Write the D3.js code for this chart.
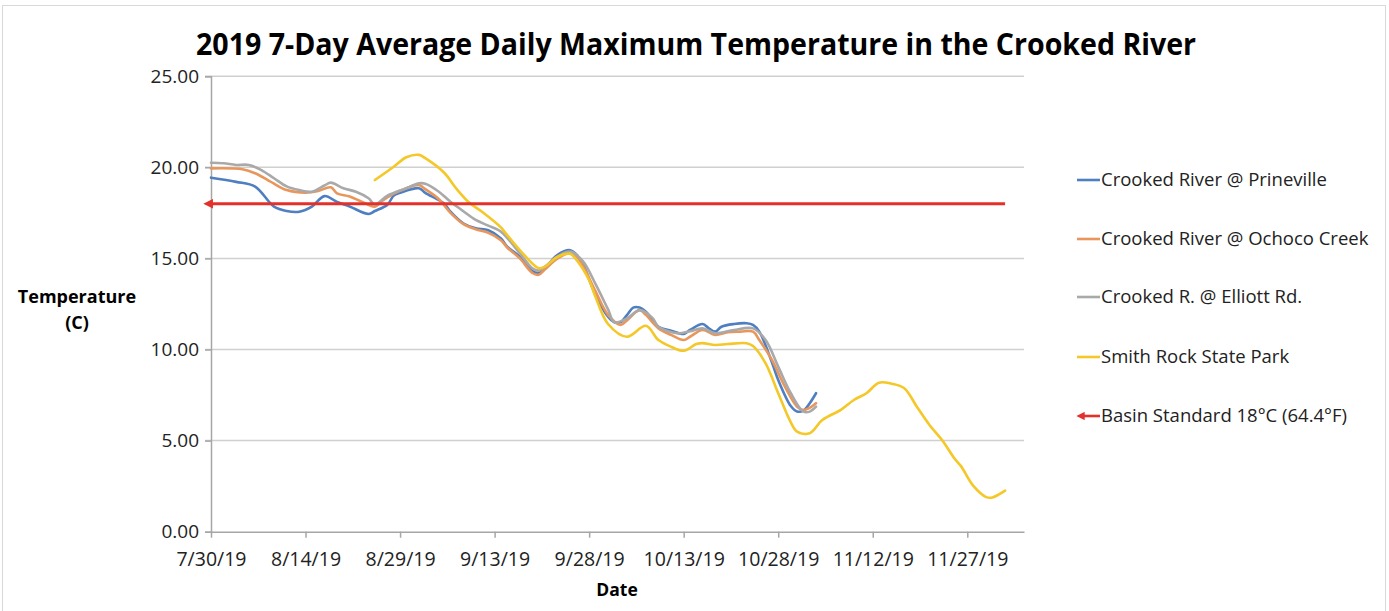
<!DOCTYPE html>
<html><head><meta charset="utf-8">
<script src="https://cdn.jsdelivr.net/npm/d3@7"></script>
<style>
html,body{margin:0;padding:0;background:#fff;}
svg{display:block;}
text{font-family:"Open Sans","DejaVu Sans",sans-serif;}
</style></head>
<body>
<svg id="chart" width="1389" height="611"></svg>
<script>
// ---- DATA ----
const titleText = "2019 7-Day Average Daily Maximum Temperature in the Crooked River";
const xTickLabels = ["7/30/19","8/14/19","8/29/19","9/13/19","9/28/19","10/13/19","10/28/19","11/12/19","11/27/19"];
const yTickValues = [0,5,10,15,20,25];
const seriesNames = ["Crooked River @ Prineville","Crooked River @ Ochoco Creek","Crooked R. @ Elliott Rd.","Smith Rock State Park","Basin Standard 18°C (64.4°F)"];

const prinevilleDates = ["2019-07-30","2019-08-03","2019-08-06","2019-08-09","2019-08-11","2019-08-13","2019-08-15","2019-08-17","2019-08-19","2019-08-21","2019-08-24","2019-08-25","2019-08-27","2019-08-28","2019-08-29","2019-09-01","2019-09-02","2019-09-05","2019-09-06","2019-09-08","2019-09-10","2019-09-12","2019-09-14","2019-09-15","2019-09-17","2019-09-19","2019-09-20","2019-09-21","2019-09-23","2019-09-25","2019-09-26","2019-09-27","2019-09-29","2019-10-01","2019-10-02","2019-10-03","2019-10-04","2019-10-05","2019-10-06","2019-10-07","2019-10-09","2019-10-11","2019-10-13","2019-10-14","2019-10-16","2019-10-17","2019-10-18","2019-10-19","2019-10-21","2019-10-23","2019-10-24","2019-10-25","2019-10-27","2019-10-28","2019-10-30","2019-10-31","2019-11-01","2019-11-02","2019-11-03"];
const prinevilleTemps = [19.43,19.2,18.94,17.84,17.6,17.56,17.84,18.42,18.1,17.85,17.44,17.6,17.95,18.45,18.6,18.85,18.6,18.0,17.56,16.93,16.65,16.55,16.1,15.64,15.09,14.3,14.2,14.46,15.2,15.45,15.2,14.7,13.0,11.8,11.5,11.5,11.89,12.3,12.3,12.07,11.25,11.03,10.85,11.07,11.4,11.16,10.98,11.25,11.4,11.44,11.35,10.98,9.3,8.33,6.9,6.6,6.65,7.05,7.6];

const ochocoDates = ["2019-07-30","2019-08-04","2019-08-06","2019-08-08","2019-08-09","2019-08-11","2019-08-14","2019-08-16","2019-08-18","2019-08-19","2019-08-21","2019-08-23","2019-08-25","2019-08-26","2019-08-28","2019-08-30","2019-09-01","2019-09-02","2019-09-04","2019-09-06","2019-09-08","2019-09-10","2019-09-12","2019-09-14","2019-09-15","2019-09-17","2019-09-19","2019-09-20","2019-09-21","2019-09-23","2019-09-25","2019-09-26","2019-09-27","2019-09-29","2019-10-01","2019-10-03","2019-10-04","2019-10-06","2019-10-07","2019-10-09","2019-10-11","2019-10-13","2019-10-14","2019-10-16","2019-10-18","2019-10-20","2019-10-22","2019-10-24","2019-10-25","2019-10-27","2019-10-29","2019-10-31","2019-11-01","2019-11-02","2019-11-03"];
const ochocoTemps = [19.94,19.89,19.67,19.3,19.1,18.75,18.61,18.7,18.9,18.57,18.4,18.1,17.84,18.11,18.55,18.85,19.03,18.8,18.3,17.5,16.9,16.6,16.4,16.0,15.6,15.0,14.2,14.1,14.4,15.0,15.3,15.1,14.6,13.2,11.9,11.35,11.6,12.16,11.9,11.16,10.8,10.52,10.7,11.07,10.8,10.95,10.98,10.98,10.52,9.43,8.0,6.86,6.68,6.8,7.05];

const elliottDates = ["2019-07-30","2019-08-01","2019-08-03","2019-08-05","2019-08-07","2019-08-09","2019-08-11","2019-08-13","2019-08-15","2019-08-17","2019-08-18","2019-08-20","2019-08-22","2019-08-24","2019-08-25","2019-08-27","2019-08-30","2019-09-01","2019-09-02","2019-09-04","2019-09-06","2019-09-08","2019-09-10","2019-09-12","2019-09-14","2019-09-17","2019-09-19","2019-09-20","2019-09-21","2019-09-23","2019-09-25","2019-09-27","2019-09-29","2019-10-01","2019-10-02","2019-10-04","2019-10-06","2019-10-08","2019-10-09","2019-10-12","2019-10-14","2019-10-16","2019-10-18","2019-10-21","2019-10-24","2019-10-26","2019-10-28","2019-10-30","2019-11-01","2019-11-02","2019-11-03"];
const elliottTemps = [20.25,20.22,20.13,20.13,19.85,19.4,18.95,18.75,18.66,19.0,19.16,18.85,18.66,18.3,17.95,18.45,18.85,19.12,19.1,18.7,18.11,17.6,17.11,16.8,16.47,15.28,14.45,14.33,14.55,15.1,15.37,14.85,13.6,12.2,11.5,11.7,12.16,11.75,11.25,10.89,11.0,11.16,10.89,11.07,11.16,10.52,9.06,7.6,6.59,6.59,6.86];

const smithDates = ["2019-08-25","2019-08-28","2019-08-30","2019-09-01","2019-09-02","2019-09-05","2019-09-07","2019-09-09","2019-09-11","2019-09-14","2019-09-15","2019-09-17","2019-09-20","2019-09-21","2019-09-23","2019-09-25","2019-09-26","2019-09-28","2019-09-29","2019-10-01","2019-10-04","2019-10-07","2019-10-09","2019-10-11","2019-10-13","2019-10-15","2019-10-16","2019-10-18","2019-10-20","2019-10-23","2019-10-24","2019-10-26","2019-10-28","2019-10-30","2019-10-31","2019-11-02","2019-11-04","2019-11-07","2019-11-09","2019-11-11","2019-11-13","2019-11-15","2019-11-17","2019-11-19","2019-11-21","2019-11-23","2019-11-25","2019-11-26","2019-11-28","2019-11-30","2019-12-01","2019-12-03"];
const smithTemps = [19.3,20.03,20.55,20.68,20.5,19.7,18.8,18.05,17.56,16.7,16.28,15.46,14.46,14.55,15.09,15.25,14.91,13.8,12.9,11.4,10.7,11.3,10.52,10.15,9.93,10.3,10.35,10.25,10.3,10.34,10.19,9.24,7.6,6.0,5.49,5.4,6.13,6.7,7.23,7.6,8.18,8.12,7.87,6.86,5.86,5.03,4.0,3.6,2.5,1.9,1.88,2.25];

const standardDates = ["2019-07-30","2019-12-03"];
const standardTemps = [18,18];

const xDomain = ["2019-07-30","2019-12-06"];
const yDomain = [0,25];

// ---- CHART ----
const parse = d3.timeParse("%Y-%m-%d");
const svg = d3.select("#chart");
const colors = ["#4f7fc0","#e8965c","#a9a9a9","#f4c828","#e3302b"];

// outer border
svg.append("rect").attr("x",2.5).attr("y",5.5).attr("width",1383).attr("height",620)
  .attr("fill","#fff").attr("stroke","#d9d9d9").attr("stroke-width",1);

const x = d3.scaleTime().domain(xDomain.map(parse)).range([211,1024]);
const y = d3.scaleLinear().domain(yDomain).range([531.7,76.2]);

// gridlines
svg.append("g").selectAll("line").data(yTickValues.filter(v=>v>0)).join("line")
  .attr("x1",205).attr("x2",1024).attr("y1",d=>y(d)).attr("y2",d=>y(d))
  .attr("stroke","#d0d0d0").attr("stroke-width",1.5);

// y axis
const yAxis = d3.axisLeft(y).tickValues(yTickValues).tickFormat(d3.format(".2f")).tickSize(6).tickPadding(6);
const gy = svg.append("g").attr("transform","translate(211,0)").call(yAxis);
gy.select(".domain").attr("stroke","#a6a6a6").attr("stroke-width",1.5);
gy.selectAll(".tick line").attr("stroke","#a6a6a6").attr("stroke-width",1.5);
gy.selectAll("text").attr("font-size","19px").attr("fill","#222").attr("font-family","Open Sans");

// x axis
const tickDates = xTickLabels.map(s=>d3.timeParse("%m/%d/%y")(s));
const xAxis = d3.axisBottom(x).tickValues(tickDates).tickFormat((d,i)=>xTickLabels[i]).tickSize(6).tickSizeOuter(0).tickPadding(14);
const gx = svg.append("g").attr("transform","translate(0,531.7)").call(xAxis);
gx.select(".domain").attr("stroke","#a6a6a6").attr("stroke-width",1.5);
gx.selectAll(".tick line").attr("stroke","#a6a6a6").attr("stroke-width",1.5);
gx.selectAll("text").attr("font-size","19.5px").attr("fill","#222").attr("font-family","Open Sans");

// series lines
const line = d3.line().x(d=>x(d.date)).y(d=>y(d.v)).curve(d3.curveCatmullRom.alpha(0.5));
function toPts(dates, vals){ return dates.map((s,i)=>({date:parse(s), v:vals[i]})); }
const series = [
  toPts(prinevilleDates, prinevilleTemps),
  toPts(ochocoDates, ochocoTemps),
  toPts(elliottDates, elliottTemps),
  toPts(smithDates, smithTemps)
];
svg.append("g").selectAll("path").data(series).join("path")
  .attr("d",line).attr("fill","none")
  .attr("stroke",(d,i)=>colors[i]).attr("stroke-width",2.6).attr("stroke-linejoin","round").attr("stroke-linecap","round");

// arrow marker
const defs = svg.append("defs");
defs.append("marker").attr("id","arrowL").attr("viewBox","0 0 10 10").attr("refX",2).attr("refY",5)
  .attr("markerWidth",3.2).attr("markerHeight",3.2).attr("orient","auto-start-reverse")
  .append("path").attr("d","M0,0 L10,5 L0,10 z").attr("fill",colors[4]);

const std = toPts(standardDates, standardTemps);
svg.append("path").datum(std).attr("d",d3.line().x(d=>x(d.date)).y(d=>y(d.v)))
  .attr("fill","none").attr("stroke",colors[4]).attr("stroke-width",3)
  .attr("marker-start","url(#arrowL)");

// title
svg.append("text").attr("x",696).attr("y",55).attr("text-anchor","middle")
  .attr("font-size","31px").attr("font-weight","bold").attr("fill","#000")
  .attr("textLength",1000).attr("lengthAdjust","spacingAndGlyphs").text(titleText);

// axis titles
svg.append("text").attr("x",77).attr("y",303).attr("text-anchor","middle")
  .attr("font-size","18px").attr("font-weight","bold").attr("fill","#000").text("Temperature");
svg.append("text").attr("x",77).attr("y",329).attr("text-anchor","middle")
  .attr("font-size","18px").attr("font-weight","bold").attr("fill","#000").text("(C)");
svg.append("text").attr("x",617).attr("y",596).attr("text-anchor","middle")
  .attr("font-size","17.5px").attr("font-weight","bold").attr("fill","#000").text("Date");

// legend
const legendY = [180,239,297,357,416];
const lg = svg.append("g");
seriesNames.forEach((name,i)=>{
  const yy = legendY[i];
  if(i<4){
    lg.append("line").attr("x1",1077).attr("x2",1100).attr("y1",yy).attr("y2",yy)
      .attr("stroke",colors[i]).attr("stroke-width",2.6);
  } else {
    lg.append("line").attr("x1",1100).attr("x2",1083).attr("y1",yy).attr("y2",yy)
      .attr("stroke",colors[4]).attr("stroke-width",2.6).attr("marker-end","url(#arrowL)");
  }
  lg.append("text").attr("x",1101).attr("y",yy).attr("dy","0.35em")
    .attr("font-size","18.5px").attr("fill","#222").text(name);
});
</script>
</body></html>
